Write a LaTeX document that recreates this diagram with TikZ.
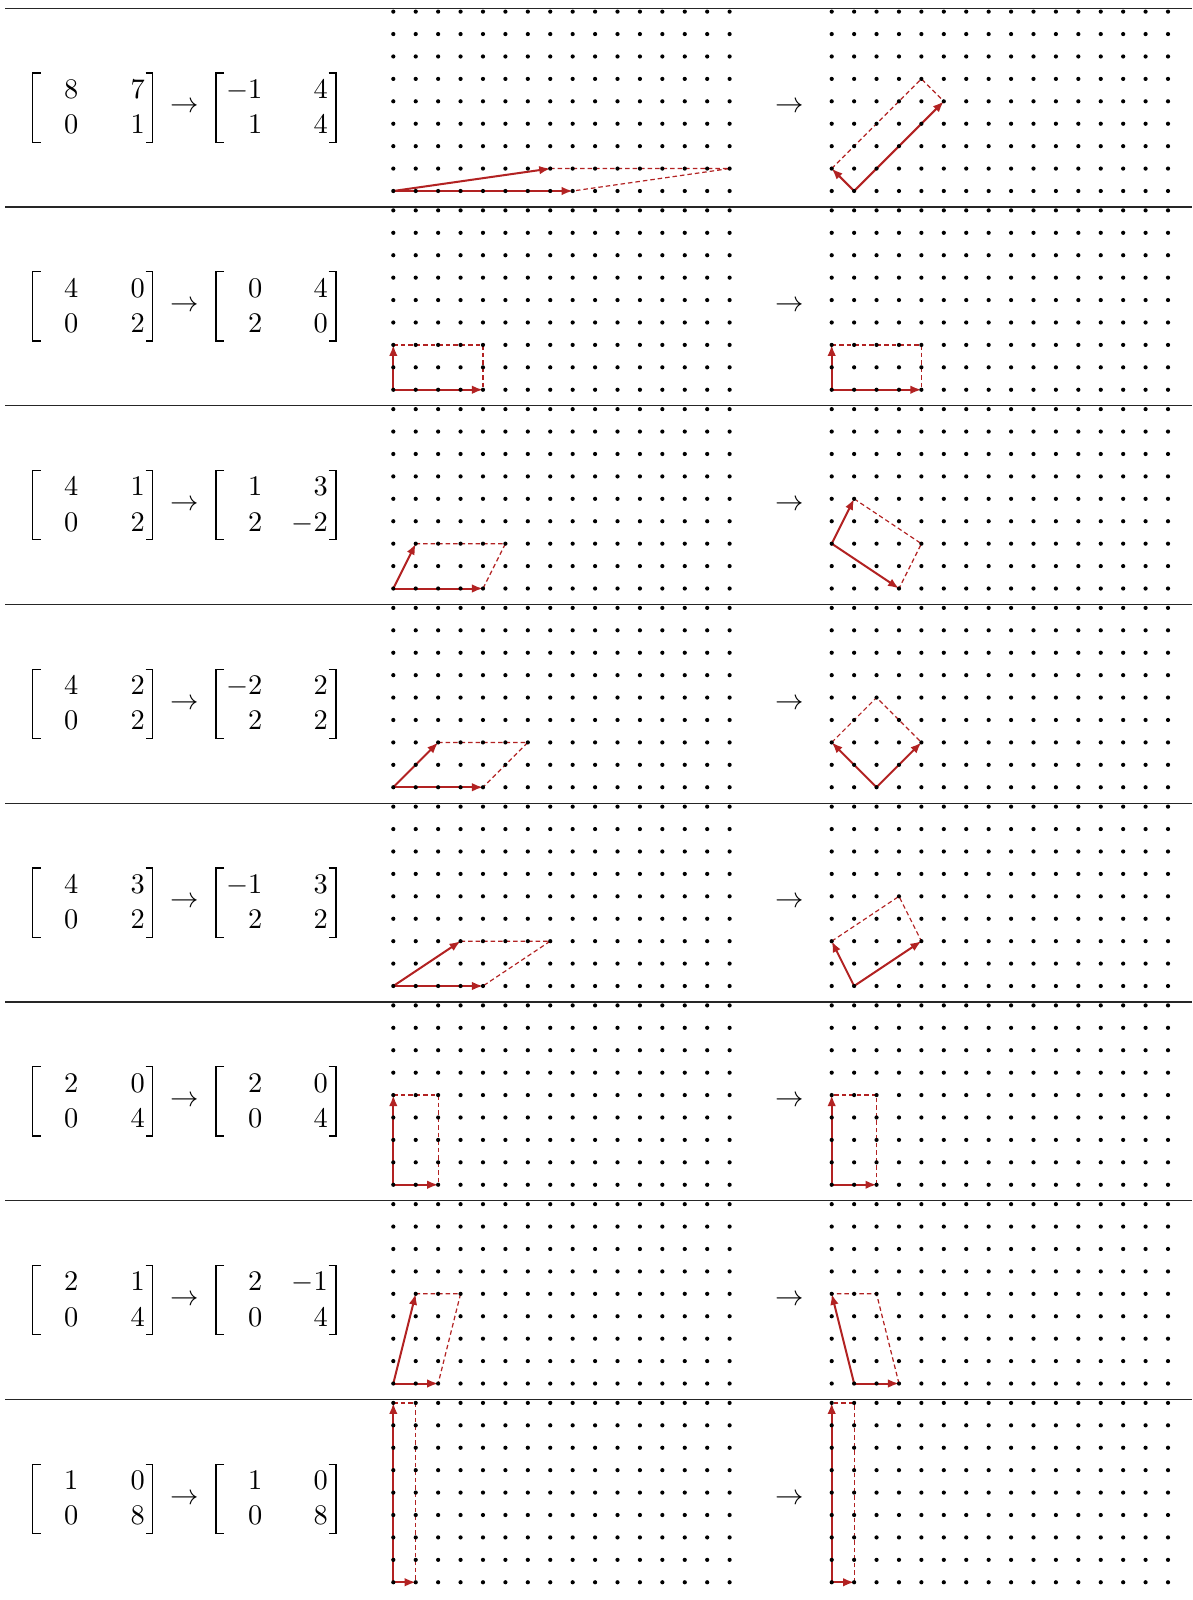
\documentclass[tikz,border=0pt]{standalone}
\usetikzlibrary{arrows.meta}
\definecolor{vred}{RGB}{178,34,34}
\tikzset{
  rulestyle/.style={line width=1.3pt, black!85},
  vec/.style={vred, line width=2pt, -{Latex[length=11pt,width=8.5pt]}},
  para/.style={vred, line width=1.2pt, dash pattern=on 4.5pt off 3pt},
  ent/.style={anchor=base east, inner sep=0pt, scale=2.84},
  brk/.style={line width=1.3pt},
  arr/.style={inner sep=0pt, scale=2.84},
}
\begin{document}
\begin{tikzpicture}[x=1pt,y=-1pt]
\useasboundingbox (0,0) rectangle (1192,1600);
\foreach \rr/\pa/\pb/\pc/\ox/\oy/\ux/\uy/\vx/\vy in {
  0/8/7/1/1/0/-1/1/4/4,
  1/4/0/2/0/0/0/2/4/0,
  2/4/1/2/0/2/1/2/3/-2,
  3/4/2/2/2/0/-2/2/2/2,
  4/4/3/2/1/0/-1/2/3/2,
  5/2/0/4/0/0/2/0/0/4,
  6/2/1/4/1/0/2/0/-1/4,
  7/1/0/8/0/0/1/0/0/8}{
  \pgfmathsetmacro\ly{8.3+198.75*\rr}
  \pgfmathsetmacro\cy{\ly+99.3}
  \pgfmathsetmacro\by{\ly+182.7}
  \pgfmathsetmacro\tb{\cy-9.3}
  \pgfmathsetmacro\bb{\cy+26}
  \pgfmathsetmacro\bt{\cy-34.7}
  \pgfmathsetmacro\bd{\cy+34.7}
  \draw[rulestyle] (5,\ly) -- (1192,\ly);
  % first matrix
  \draw[brk] (40.5,\bt) -- (32.3,\bt) -- (32.3,\bd) -- (40.5,\bd);
  \draw[brk] (145.5,\bt) -- (152.7,\bt) -- (152.7,\bd) -- (145.5,\bd);
  \node[ent] (Pa\rr) at (79,\tb) {$\pa$};
  \node[ent] (Pb\rr) at (145.5,\tb) {$\pb$};
  \node[ent] (Pz\rr) at (79,\bb) {$0$};
  \node[ent] (Pc\rr) at (145.5,\bb) {$\pc$};
  \node[arr] (T\rr) at (185,\cy) {$\rightarrow$};
  % second matrix
  \draw[brk] (224,\bt) -- (216,\bt) -- (216,\bd) -- (224,\bd);
  \draw[brk] (328.5,\bt) -- (336,\bt) -- (336,\bd) -- (328.5,\bd);
  \node[ent] (Qa\rr) at (263,\tb) {$\ux$};
  \node[ent] (Qb\rr) at (328.5,\tb) {$\vx$};
  \node[ent] (Qc\rr) at (263,\bb) {$\uy$};
  \node[ent] (Qd\rr) at (328.5,\bb) {$\vy$};
  \node[arr] (G\rr) at (790,\cy) {$\rightarrow$};
  % left grid
  \begin{scope}[shift={(393.3,\by)}, x=22.42pt, y=22.42pt]
    \coordinate (LO\rr) at (0,0);
    \coordinate (LA\rr) at (\pa,0);
    \coordinate (LB\rr) at (\pb,\pc);
    \coordinate (LS\rr) at ({\pa+\pb},\pc);
    \draw[para] (LB\rr) -- (LS\rr) -- (LA\rr);
    \draw[vec] (LO\rr) -- (LA\rr);
    \draw[vec] (LO\rr) -- (LB\rr);
    \foreach \i in {0,...,15} \foreach \j in {0,...,8} \fill (\i,\j) circle[radius=2.1pt];
  \end{scope}
  % right grid
  \begin{scope}[shift={(831.7,\by)}, x=22.42pt, y=22.42pt]
    \coordinate (RO\rr) at (\ox,\oy);
    \coordinate (RU\rr) at ({\ox+\ux},{\oy+\uy});
    \coordinate (RV\rr) at ({\ox+\vx},{\oy+\vy});
    \coordinate (RS\rr) at ({\ox+\ux+\vx},{\oy+\uy+\vy});
    \draw[para] (RU\rr) -- (RS\rr) -- (RV\rr);
    \draw[vec] (RO\rr) -- (RU\rr);
    \draw[vec] (RO\rr) -- (RV\rr);
    \foreach \i in {0,...,15} \foreach \j in {0,...,8} \fill (\i,\j) circle[radius=2.1pt];
  \end{scope}
}
\end{tikzpicture}
\end{document}
